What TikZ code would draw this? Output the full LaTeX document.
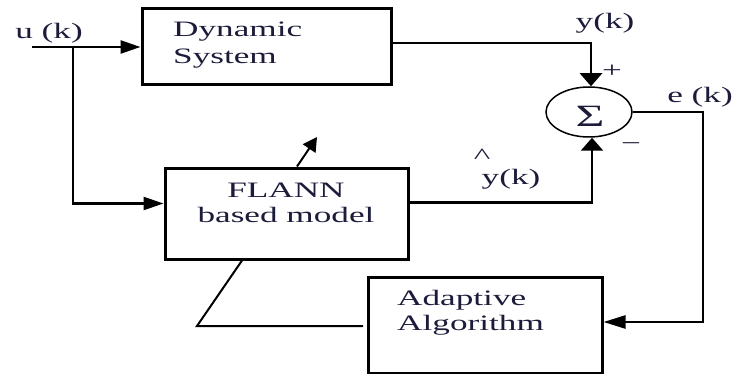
\documentclass[tikz,border=0pt]{standalone}
\usepackage{fontspec}
\setmainfont{Liberation Serif}
\usetikzlibrary{arrows.meta,shapes.geometric}
\definecolor{txt}{HTML}{1C1C3A}
\newcommand\sx[1]{\scalebox{1.6}[1]{#1}}
\begin{document}
\begin{tikzpicture}[x=1pt,y=-1pt]
\useasboundingbox (0,0) rectangle (735,374);
\tikzset{
 blk/.style={draw, line width=3pt, inner sep=0pt},
 conn/.style={line width=2.5pt},
 thin/.style={line width=2pt},
 lbl/.style={text=txt, inner sep=0pt, font=\fontsize{22}{26}\selectfont},
 harr/.style={-{Triangle[length=20pt,width=13pt]}},
 harrb/.style={-{Triangle[length=22pt,width=13pt]}},
 varr/.style={-{Triangle[length=13pt,width=22pt]}},
}
% blocks
\node[blk, minimum width=249pt, minimum height=76pt] (ds) at (266.5,47) {};
\node[lbl, anchor=west, align=left, font=\fontsize{22}{27}\selectfont] (dst) at (173,45) {\sx{Dynamic}\\\sx{System}};
\node[blk, minimum width=243pt, minimum height=91pt] (fl) at (286.5,213.5) {};
\node[lbl, align=center, font=\fontsize{22}{25}\selectfont] (flt) at (286,203) {\sx{FLANN}\\\sx{based model}};
\node[blk, minimum width=234pt, minimum height=96pt] (ad) at (485,325) {};
\node[lbl, anchor=west, align=left, font=\fontsize{22}{25}\selectfont] (adt) at (397,313) {\sx{Adaptive}\\\sx{Algorithm}};
\node[draw, ellipse, line width=1.5pt, minimum width=86pt, minimum height=50pt, inner sep=0pt] (sum) at (589,112) {};
\node[lbl, font=\fontsize{31}{31}\selectfont] (sig) at (590,116) {\sx{Σ}};
% labels
\node[lbl] (uk) at (49,33) {\sx{u (k)}};
\node[lbl] (yk) at (605,23) {\sx{y(k)}};
\node[lbl] (ek) at (700,97) {\sx{e (k)}};
\node[lbl] (plus) at (612,71) {\sx{+}};
\node[lbl] (minus) at (631,147) {\sx{−}};
\node[lbl] (hat) at (482,156) {\sx{\textasciicircum}};
\node[lbl] (yhk) at (511,179) {\sx{y(k)}};
% coordinates
\coordinate (uin) at (32,47);
\coordinate (br) at (73,47);
\coordinate (ecorner) at (703,322);
\coordinate (fbB) at (197,326);
\coordinate (fbC) at (363,326);
\coordinate (tip) at (317,137);
% connectors
\draw[conn, harr] (uin) -- (ds.west);
\draw[conn, harr] (br) |- ([yshift=10pt]fl.west);
\draw[conn, varr] ([yshift=4pt]ds.east) -| ([xshift=2pt]sum.north);
\draw[conn, varr] ([yshift=11pt]fl.east) -| ([xshift=3pt]sum.south);
\draw[conn, harrb] (sum.east) -| (ecorner) -- ([yshift=3pt]ad.east);
\draw[thin] ([xshift=-44.5pt]fl.south) -- (fbB) -- (fbC);
\draw[thin, -{Triangle[length=14pt,width=15pt]}] ([xshift=10.5pt]fl.north) -- (tip);
\end{tikzpicture}
\end{document}
